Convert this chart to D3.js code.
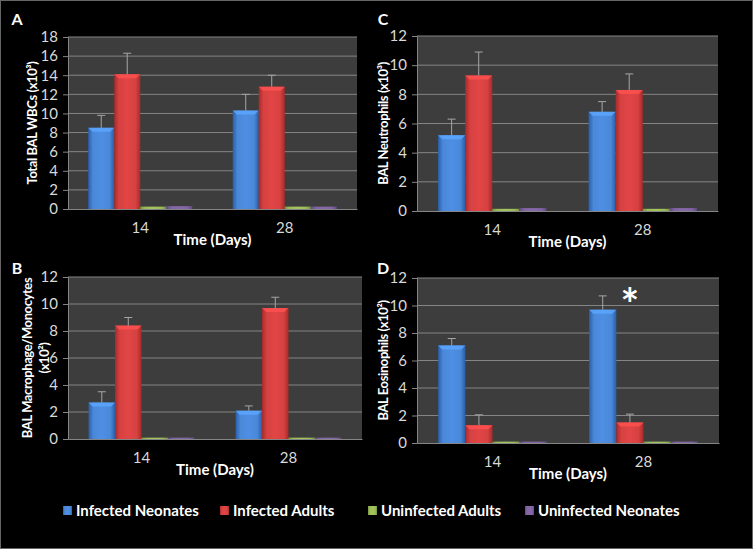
<!DOCTYPE html>
<html>
<head>
<meta charset="utf-8">
<script src="https://cdn.jsdelivr.net/npm/d3@7"></script>
<style>
  body { margin: 0; background: #fff; }
  svg text { font-family: Lato, "Open Sans", sans-serif; }
</style>
</head>
<body>
<svg id="chart" width="756" height="550"></svg>
<script>
// ---- data ----
var days = ["14", "28"];
var groups = ["Infected Neonates", "Infected Adults", "Uninfected Adults", "Uninfected Neonates"];
var colors = ["#4a88d8", "#d64141", "#9bbb59", "#8064a2"];
var edgeColors = ["#2b5ea8", "#a82a2a", "#789838", "#5f4a80"];

// values per panel: [day][group]
var wbcMean = [[8.5, 14.1, 0.25, 0.3], [10.3, 12.8, 0.25, 0.25]];
var wbcErr  = [[9.8, 16.3, null, null], [12.0, 14.0, null, null]];
var neuMean = [[5.2, 9.3, 0.15, 0.2], [6.8, 8.3, 0.15, 0.2]];
var neuErr  = [[6.3, 10.9, null, null], [7.5, 9.4, null, null]];
var macMean = [[2.7, 8.4, 0.1, 0.1], [2.1, 9.7, 0.1, 0.1]];
var macErr  = [[3.5, 9.0, null, null], [2.45, 10.5, null, null]];
var eosMean = [[7.1, 1.3, 0.1, 0.1], [9.7, 1.5, 0.1, 0.1]];
var eosErr  = [[7.6, 2.05, null, null], [10.7, 2.1, null, null]];

var panels = [
  {letter: "A", title: ["Total BAL WBCs (x10\u00b3)"], max: 18, mean: wbcMean, err: wbcErr,
   box: {x0: 68, x1: 357, y0: 37, y1: 209}, lx: 17, ly: 19, tx: [32]},
  {letter: "C", title: ["BAL Neutrophils (x10\u00b3)"], max: 12, mean: neuMean, err: neuErr,
   box: {x0: 417, x1: 718, y0: 36, y1: 211}, lx: 383, ly: 19, tx: [383]},
  {letter: "B", title: ["BAL Macrophage/Monocytes", "(x10\u00b2)"], max: 12, mean: macMean, err: macErr,
   box: {x0: 68, x1: 362, y0: 277, y1: 439}, lx: 17, ly: 268, tx: [27, 44]},
  {letter: "D", title: ["BAL Eosinophils (x10\u00b2)"], max: 12, mean: eosMean, err: eosErr,
   box: {x0: 417, x1: 719, y0: 278, y1: 443}, lx: 383, ly: 268, tx: [383], star: 1}
];

var svg = d3.select("#chart");

svg.append("rect")
  .attr("x", 0.5).attr("y", 0.5)
  .attr("width", 752).attr("height", 548)
  .attr("fill", "#000")
  .attr("stroke", "#666");

var defs = svg.append("defs");
colors.forEach(function(c, i) {
  var g = defs.append("linearGradient")
    .attr("id", "grad" + i)
    .attr("x1", "0%").attr("x2", "100%").attr("y1", "0%").attr("y2", "0%");
  g.append("stop").attr("offset", "0%").attr("stop-color", edgeColors[i]);
  g.append("stop").attr("offset", "18%").attr("stop-color", c);
  g.append("stop").attr("offset", "50%").attr("stop-color", d3.color(c).brighter(0.15));
  g.append("stop").attr("offset", "82%").attr("stop-color", c);
  g.append("stop").attr("offset", "100%").attr("stop-color", edgeColors[i]);
});

panels.forEach(function(p) {
  var b = p.box;
  var x0 = d3.scaleBand().domain(days).range([b.x0, b.x1]);
  var bw = x0.bandwidth();
  var x1 = d3.scaleBand().domain(groups).range([bw * 0.14, bw * 0.86]);
  var y = d3.scaleLinear().domain([0, p.max]).range([b.y1, b.y0]);

  var g = svg.append("g");

  // plot background
  g.append("rect")
    .attr("x", b.x0).attr("y", b.y0)
    .attr("width", b.x1 - b.x0).attr("height", b.y1 - b.y0)
    .attr("fill", "#3d3d3d");

  // gridlines
  g.selectAll(".grid")
    .data(y.ticks(p.max / 2).filter(function(t) { return t > 0; }))
    .enter().append("line")
    .attr("x1", b.x0).attr("x2", b.x1)
    .attr("y1", function(d) { return y(d); })
    .attr("y2", function(d) { return y(d); })
    .attr("stroke", "#858585").attr("stroke-width", 1);

  // y axis
  var yAxis = d3.axisLeft(y).ticks(p.max / 2).tickSize(5).tickPadding(5);
  var ya = g.append("g")
    .attr("transform", "translate(" + b.x0 + ",0)")
    .call(yAxis);
  ya.select(".domain").attr("stroke", "#858585");
  ya.selectAll(".tick line").attr("stroke", "#858585");
  ya.selectAll(".tick text")
    .attr("fill", "#d9d9d9")
    .style("font-size", "15px");

  // x axis
  var xAxis = d3.axisBottom(x0).tickSize(0).tickPadding(13);
  var xa = g.append("g")
    .attr("transform", "translate(0," + b.y1 + ")")
    .call(xAxis);
  xa.select(".domain").attr("stroke", "#858585");
  xa.selectAll(".tick text")
    .attr("fill", "#d9d9d9")
    .style("font-size", "15px");

  // bars
  days.forEach(function(day, di) {
    groups.forEach(function(grp, gi) {
      var v = p.mean[di][gi];
      var bx = x0(day) + x1(grp);
      var w = x1.bandwidth();
      var top = y(v);
      g.append("rect")
        .attr("x", bx).attr("y", top)
        .attr("width", w).attr("height", y(0) - top)
        .attr("fill", "url(#grad" + gi + ")");
      if (y(0) - top > 6) {
        g.append("path")
          .attr("d", "M" + bx + "," + top + "L" + (bx + w) + "," + top +
            "L" + (bx + w - 4) + "," + (top + 4) + "L" + (bx + 4) + "," + (top + 4) + "Z")
          .attr("fill", d3.color(colors[gi]).brighter(0.6))
          .attr("opacity", 0.8);
      }
      var e = p.err[di][gi];
      if (e != null) {
        var cx = bx + w / 2;
        g.append("line")
          .attr("x1", cx).attr("x2", cx)
          .attr("y1", top).attr("y2", y(e))
          .attr("stroke", "#a6a6a6").attr("stroke-width", 1);
        g.append("line")
          .attr("x1", cx - 4).attr("x2", cx + 4)
          .attr("y1", y(e)).attr("y2", y(e))
          .attr("stroke", "#a6a6a6").attr("stroke-width", 1);
      }
    });
  });

  // x title
  g.append("text")
    .attr("x", (b.x0 + b.x1) / 2)
    .attr("y", b.y1 + 36)
    .attr("text-anchor", "middle")
    .attr("fill", "#fff")
    .style("font-size", "15px")
    .style("font-weight", "bold")
    .text("Time (Days)");

  // y title
  p.title.forEach(function(t, i) {
    g.append("text")
      .attr("transform", "translate(" + (p.tx[i] + 5) + "," + ((b.y0 + b.y1) / 2) + ") rotate(-90)")
      .attr("text-anchor", "middle")
      .attr("fill", "#fff")
      .style("font-size", "13px")
      .style("letter-spacing", "-0.4px")
      .style("font-weight", "bold")
      .text(t);
  });

  // panel letter
  g.append("text")
    .attr("x", p.lx).attr("y", p.ly + 6)
    .attr("text-anchor", "middle")
    .attr("fill", "#fff")
    .style("font-size", "16px")
    .style("font-weight", "bold")
    .text(p.letter);

  // significance star
  if (p.star != null) {
    g.append("text")
      .attr("x", x0(days[p.star]) + x1(groups[1]) + x1.bandwidth() / 2)
      .attr("y", y(10.2) + 17)
      .attr("text-anchor", "middle")
      .attr("fill", "#fff")
      .style("font-size", "44px")
      .style("font-weight", "bold")
      .text("*");
  }
});

// legend
var legendStart = [63, 220, 368, 525];
var leg = svg.append("g");
groups.forEach(function(grp, i) {
  leg.append("rect")
    .attr("x", legendStart[i]).attr("y", 506)
    .attr("width", 9).attr("height", 9)
    .attr("fill", "url(#grad" + i + ")");
  leg.append("text")
    .attr("x", legendStart[i] + 13).attr("y", 516)
    .attr("fill", "#fff")
    .style("font-size", "15px")
    .style("font-weight", "bold")
    .text(grp);
});
</script>
</body>
</html>
